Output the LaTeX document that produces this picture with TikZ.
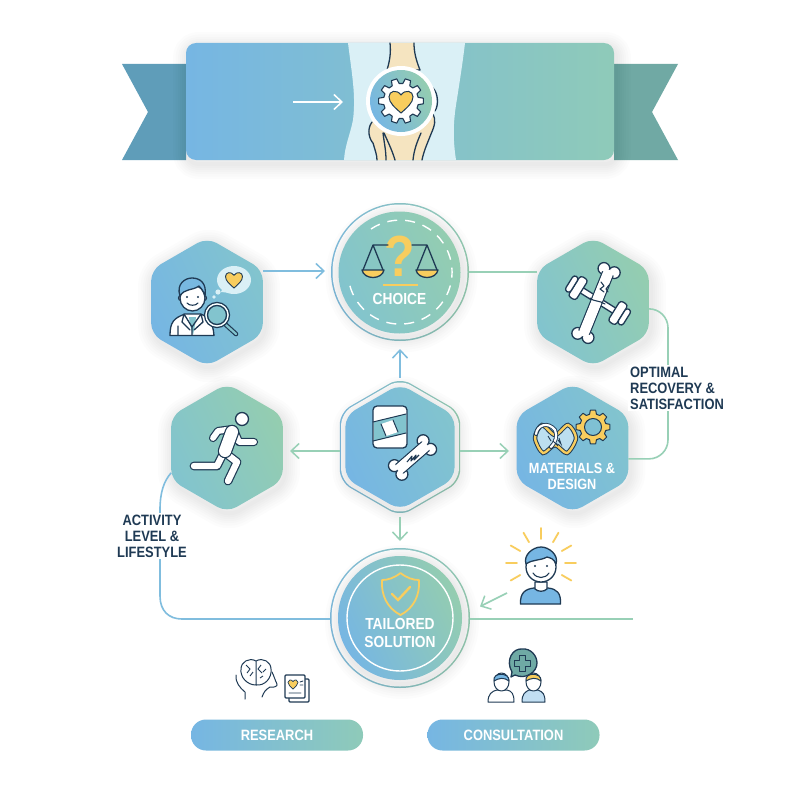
\documentclass[tikz,border=0pt]{standalone}
\usepackage{fontspec}
\setmainfont[FakeStretch=.86]{Liberation Sans}
\usetikzlibrary{shapes.geometric,arrows.meta}
\definecolor{flowblue}{HTML}{76B6E3}
\definecolor{flowteal}{HTML}{82C4CE}
\definecolor{flowgreen}{HTML}{94CDB0}
\definecolor{lineblue}{HTML}{80BDDE}
\definecolor{linegreen}{HTML}{98D0B6}
\definecolor{inkline}{HTML}{1F3A54}
\definecolor{heartyellow}{HTML}{F8CD5E}
\definecolor{bonecream}{HTML}{F5E4C0}
\definecolor{paleband}{HTML}{DAF0F6}
\definecolor{tailblue}{HTML}{5F9DB9}
\definecolor{tailgreen}{HTML}{70A9A4}
\definecolor{bubbleteal}{HTML}{6FAAA5}
\tikzset{
  shadelayer/.style = {preaction={draw=black,draw opacity=.012,line width=#1,line join=round,
                       transform canvas={xshift=2pt,yshift=-4pt}}},
  softshade/.style = {shadelayer=4pt,shadelayer=8pt,shadelayer=12pt,shadelayer=16pt,
                      shadelayer=20pt,shadelayer=25pt,shadelayer=30pt},
  bluefill/.style  = {left color=flowblue, right color=flowteal, shading angle=115},
  greenfill/.style = {left color=flowteal, right color=flowgreen, shading angle=115},
  widefill/.style  = {left color=flowblue, middle color=flowteal, right color=flowgreen, shading angle=115},
  flatfill/.style  = {left color=flowblue, middle color=flowteal, right color=flowgreen!70!flowteal},
  hexbox/.style    = {shape=regular polygon, regular polygon sides=6, shape border rotate=30,
                      minimum size=129pt, inner sep=0pt, outer sep=0pt, rounded corners=11pt},
  roundbox/.style  = {shape=circle, inner sep=0pt, outer sep=0pt},
  pillbox/.style   = {shape=rectangle, rounded corners=15pt, minimum width=172pt, minimum height=31pt,
                      inner sep=0pt, flatfill, text=white, font=\fontsize{15}{16}\selectfont\bfseries},
  lighttext/.style = {text=white, align=center, inner sep=0pt},
  darktext/.style  = {text=inkline, fill=white, inner sep=2pt,
                      font=\fontsize{15}{16}\selectfont\bfseries},
  blueline/.style  = {draw=lineblue, line width=1.6pt},
  greenline/.style = {draw=linegreen, line width=1.6pt},
  pointer/.style   = {-{Straight Barb[length=8pt,width=15pt,line width=1.5pt]}},
  inkstroke/.style = {draw=inkline, line width=1.3pt, line join=round, line cap=round},
  pics/heart/.style = {code={
    \path[pic actions] (0,1) .. controls (-.5,.55) and (-1,.15) .. (-1,-.35)
      .. controls (-1,-.85) and (-.35,-1) .. (0,-.5)
      .. controls (.35,-1) and (1,-.85) .. (1,-.35)
      .. controls (1,.15) and (.5,.55) .. (0,1) -- cycle;}},
  pics/gearwheel/.style n args = {2}{code={
    \path[pic actions,even odd rule] (-#2/3:.78)
      \foreach \a in {0,#2,...,359}{ -- (\a-#2/3:.78) -- (\a-#2/5:1) -- (\a+#2/5:1) -- (\a+#2/3:.78)} -- cycle
      (0,0) circle[radius=#1];}},
  pics/bone/.style = {code={
    \pgfmathsetmacro\bonew{#1}
    \pgfmathsetmacro\boner{1.05*#1}
    \draw[inkstroke,fill=white] (-1,-\bonew) circle[radius=\boner] (-1,\bonew) circle[radius=\boner]
      (1,-\bonew) circle[radius=\boner] (1,\bonew) circle[radius=\boner];
    \draw[inkstroke,fill=white] (-.9,-\bonew) rectangle (.9,\bonew);
    \pgfmathsetmacro\bonei{.9*#1}
    \fill[white] (-1.02,-\bonei) rectangle (1.02,\bonei);}},
}
\newcommand{\runlimb}[2]{%
  \draw[inkline,line width=#1+2.4pt,line cap=round,line join=round] #2;
  \draw[white,line width=#1,line cap=round,line join=round] #2;}
\begin{document}
\begin{tikzpicture}[x=1pt,y=-1pt]
  \useasboundingbox (0,0) rectangle (800,800);
  \fill[white] (0,0) rectangle (800,800);

  % ribbon
  \fill[tailblue] (186,64) -- (122,64) -- (148,112) -- (122,160) -- (186,160) -- cycle;
  \fill[tailgreen] (614,64) -- (678,64) -- (652,112) -- (678,160) -- (614,160) -- cycle;
  \node[shape=rectangle, rounded corners=10pt, minimum width=428pt, minimum height=117pt, inner sep=0pt,
        flatfill, softshade] (banner) at (400,101.5) {};

  % knee
  \fill[paleband] (348,43) .. controls (352,75) and (356,95) .. (353,120) .. controls (350,135) and (345,145) .. (344,160)
    -- (456,160) .. controls (453,140) and (453,125) .. (456,105) .. controls (460,80) and (463,60) .. (465,43) -- cycle;
  \draw[inkstroke,fill=bonecream] (390,43) .. controls (391,52) and (390,60) .. (387,70) -- (420,70)
    .. controls (416,60) and (414,52) .. (414,43);
  \fill[bonecream] (372,122) .. controls (366,130) and (370,140) .. (373,143) .. controls (375,150) and (377,155) .. (377,160)
    -- (422,160) .. controls (425,150) and (428,142) .. (431,134) .. controls (435,125) and (436,120) .. (433,113) -- (400,105) -- cycle;
  \draw[inkstroke] (372,122) .. controls (366,130) and (370,140) .. (373,143) .. controls (375,150) and (377,155) .. (377,160)
    (383,133) .. controls (384,142) and (386,150) .. (386,160)
    (384,133) .. controls (388,142) and (392,150) .. (395,160)
    (413,160) .. controls (414,150) and (417,142) .. (421,133)
    (422,160) .. controls (424,150) and (428,142) .. (431,134) .. controls (435,125) and (436,120) .. (433,114)
    (433,88) .. controls (438,93) and (439,105) .. (435,111);
  \node[roundbox, minimum size=70pt, fill=white] (kneering) at (401,101) {};
  \node[roundbox, minimum size=62pt, widefill] (kneedisc) at (kneering) {};
  \path (kneedisc) pic[scale=22.5,fill=white,draw=inkline,line width=1.1pt,line join=round]{gearwheel={.01}{36}};
  \path (kneedisc) pic[scale=12,fill=heartyellow,draw=inkline,line width=1pt]{heart};
  \coordinate (bannerstart) at (293,102);
  \coordinate (bannerend) at (343,102);
  \draw[white,line width=1.5pt,pointer] (bannerstart) -- (bannerend);

  % main nodes
  \node[hexbox, bluefill, softshade] (doctor) at (207,302) {};
  \node[hexbox, greenfill, softshade] (recovery) at (593,302) {};
  \node[hexbox, greenfill, softshade] (runner) at (227,448) {};
  \node[hexbox, bluefill, softshade] (materials) at (572.5,448) {};

  \node[hexbox, minimum size=139pt, rounded corners=12pt, left color=lineblue, right color=linegreen] (centerring) at (400,447) {};
  \node[hexbox, minimum size=136pt, rounded corners=12pt, fill=white] (centerwhite) at (400,447) {};
  \node[hexbox, minimum size=126pt, bluefill, softshade] (centerhex) at (400,447) {};

  \node[roundbox, minimum size=138pt, left color=lineblue, right color=linegreen] (choicering) at (400,272) {};
  \node[roundbox, minimum size=135pt, fill=white] (choicewhite) at (400,272) {};
  \node[roundbox, minimum size=122pt, greenfill, softshade] (choicedisc) at (399.5,272.5) {};

  \node[roundbox, minimum size=140pt, left color=lineblue, right color=linegreen] (solutionring) at (400,618) {};
  \node[roundbox, minimum size=137pt, fill=white] (solutionwhite) at (400,618) {};
  \node[roundbox, minimum size=124pt, widefill, softshade] (solutiondisc) at (400,618) {};
  \node[roundbox, minimum size=106pt, draw=white, line width=1.4pt] (solutionline) at (400,618) {};

  \node[pillbox] (research) at (277,735) {RESEARCH};
  \node[pillbox] (consultation) at (513.5,735) {CONSULTATION};

  % connectors
  \coordinate (recoveryturn) at (668,384);
  \coordinate (solutionend) at (633,619);
  \coordinate (persontail) at (507,593);
  \coordinate (persontip) at (480,606.5);
  \draw[blueline,pointer] (doctor.0 |- 0,271) -- (325,271);
  \draw[greenline] (choicering.east |- 0,272) -- (recovery.west |- 0,272);
  \draw[greenline,rounded corners=19pt] (recovery.-7) -| (recoveryturn) |- (materials.-11);
  \draw[blueline,pointer] (centerring.north) -- (400,349);
  \draw[greenline,pointer] (centerring.west |- 0,451) -- (290,451);
  \draw[greenline,pointer] (centerring.east |- 0,451) -- (509,451);
  \draw[greenline,pointer] (centerring.south) -- (400,541);
  \draw[blueline] (runner.204) .. controls (164,481) and (160,492) .. (160,510) -- (160,596)
    .. controls (160,611) and (169,619) .. (182,619) -- (solutionring.west |- 0,619);
  \draw[greenline] (solutionring.east |- 0,619) -- (solutionend);
  \draw[greenline,pointer] (persontail) -- (persontip);

  % texts
  \node[darktext, align=left, anchor=west] (recoverytext) at (628,388) {OPTIMAL\\RECOVERY \&\\SATISFACTION};
  \node[darktext, align=center] (activitytext) at (152,536) {ACTIVITY\\LEVEL \&\\LIFESTYLE};
  \node[lighttext, font=\fontsize{16}{18}\selectfont\bfseries] (choicetext) at (399.5,299) {CHOICE};
  \node[lighttext, font=\fontsize{14.8}{16}\selectfont\bfseries] (materialstext) at (572,476) {MATERIALS \&\\DESIGN};
  \node[lighttext, font=\fontsize{16}{18.5}\selectfont\bfseries] (solutiontext) at (400,633) {TAILORED\\SOLUTION};

  % choice icons
  \draw[white,line width=1.4pt,dash pattern=on 10pt off 8pt] (371,229) arc[start angle=-124,end angle=170,radius=52];
  \node[text=heartyellow, inner sep=0pt, font=\fontsize{58}{58}\selectfont\bfseries] (choicemark) at (400,256) {?};
  \draw[inkstroke] (373,245) -- (388,245) (412,245) -- (427,245) (363,270) -- (373,245) -- (383,270) (417,270) -- (427,245) -- (437,270);
  \draw[inkstroke,fill=heartyellow] (362,270) .. controls (364,280) and (382,280) .. (384,270) -- cycle;
  \draw[inkstroke,fill=heartyellow] (416,270) .. controls (418,280) and (436,280) .. (438,270) -- cycle;
  \draw[heartyellow,line width=1.8pt] (383,285) -- (418,285);

  % doctor
  \fill[paleband] (234,280) ellipse[x radius=17,y radius=14];
  \fill[paleband] (221,292) -- (225,283) -- (232,293) -- cycle;
  \fill[paleband] (218,292) circle[radius=2.6] (214,297) circle[radius=1.8];
  \path (234,279.5) pic[scale=8.5,fill=heartyellow,draw=inkline,line width=.9pt]{heart};
  \draw[inkstroke,fill=white] (170,335.5) .. controls (170,322) and (174,318) .. (185,314) -- (200,314)
    .. controls (208,316) and (213,322) .. (214,335.5) -- cycle;
  \fill[flowteal] (189,317) -- (196,317) -- (195,325) -- (193,335) -- (190,325) -- cycle;
  \draw[inkstroke] (184,314) -- (192,327) -- (201,314) (192,327) -- (192,335) (178,326) -- (178,335) (184,314) -- (182,322) -- (190,330) (201,314) -- (203,322) -- (194,330);
  \draw[inkstroke,fill=white] (181,298) circle[radius=2.5] (204,298) circle[radius=2.5];
  \draw[inkstroke,fill=white] (192.5,298) ellipse[x radius=12.5,y radius=13];
  \draw[inkstroke,fill=flowblue!85!flowteal] (180,296) .. controls (176,284) and (185,278) .. (192,278)
    .. controls (200,278) and (207,283) .. (205,296) .. controls (203,290) and (201,288) .. (199,286)
    .. controls (192,291) and (185,288) .. (180,296) -- cycle;
  \draw[inkstroke,line width=1.1pt] (187,303) .. controls (189,306) and (196,306) .. (198,303);
  \fill[inkline] (187,297) circle[radius=1.2] (198,297) circle[radius=1.2];
  \draw[inkline,line width=4.6pt,line cap=round] (225,324) -- (236,334);
  \draw[flowteal,line width=2.2pt,line cap=round] (226,325) -- (236,334);
  \draw[inkstroke,fill=flowteal] (217,315) circle[radius=12.5];
  \draw[white,line width=1.4pt] (217,315) circle[radius=11];
  \draw[inkstroke] (217,315) circle[radius=9.5];

  % recovery: dumbbell and bone
  \begin{scope}[shift={(598,300.5)},rotate=-32]
    \draw[inkstroke,fill=white] (-28,-3) rectangle (28,3);
    \draw[inkstroke,fill=white,rounded corners=3pt] (-28,-12) rectangle (-19,12);
    \draw[inkstroke,fill=white,rounded corners=3pt] (-34,-9) rectangle (-28,9);
    \draw[inkstroke,fill=white,rounded corners=3pt] (19,-12) rectangle (28,12);
    \draw[inkstroke,fill=white,rounded corners=3pt] (28,-9) rectangle (34,9);
  \end{scope}
  \path (596,303) pic[rotate=68,scale=35]{bone=.16};
  \draw[inkstroke,line width=1.1pt] (590,298) .. controls (594,302) and (599,300) .. (605,304)
    (601,282) -- (604,286) -- (600,289) -- (604,292) (609,285) -- (606,289) -- (608,292);

  % centre: bandage and bone
  \draw[inkstroke,fill=white,rounded corners=4pt] (373,406) rectangle (407,448);
  \fill[flowteal] (374,422) -- (406,414) -- (406,433) -- (374,441) -- cycle;
  \fill[white] (381,424) -- (393,420) -- (398,432) -- (386,436) -- cycle;
  \draw[inkstroke,line width=1pt] (373,422) -- (406,414) (373,441) -- (406,433) (381,424) -- (386,436) (393,420) -- (398,432);
  \path (412.5,457.5) pic[rotate=41,scale=19]{bone=.3};
  \draw[inkline,line width=1.1pt,line join=round] (407,462) -- (412,456) -- (411,461) -- (416,455) -- (414,460) -- (419,455);

  % runner
  \draw[inkstroke,fill=white] (242,419) circle[radius=6.5];
  \runlimb{5.8pt}{(233,429) -- (218,431) -- (213,438)}
  \runlimb{5.8pt}{(234,430) -- (239,442) -- (254,442)}
  \runlimb{6.4pt}{(224,452) -- (217,466) -- (194,466)}
  \runlimb{6.4pt}{(224,452) -- (237,462) -- (228,481)}
  \runlimb{12pt}{(232,432) -- (225,451)}

  % materials icons
  \path (593,427) pic[scale=17,fill=heartyellow,draw=inkline,line width=1pt,line join=round]{gearwheel={.5}{45}};
  \fill[paleband!70!flowblue] plot[smooth cycle] coordinates {(555,435) (568,425) (576,438) (567,453) (555,445) (543,453) (535,438) (542,425)};
  \draw[inkline,line width=4.4pt] plot[smooth cycle] coordinates {(555,435) (568,425) (576,438) (567,453) (555,445) (543,453) (535,438) (542,425)};
  \draw[heartyellow,line width=2.4pt] plot[smooth cycle] coordinates {(555,435) (568,425) (576,438) (567,453) (555,445) (543,453) (535,438) (542,425)};
  \draw[inkline,line width=4pt,line cap=round] (536,434) .. controls (537,425) and (548,421) .. (555,430) .. controls (558,436) and (555,443) .. (551,447);
  \draw[white,line width=2.2pt,line cap=round] (536,434) .. controls (537,425) and (548,421) .. (555,430) .. controls (558,436) and (555,443) .. (551,447);
  \draw[inkline,line width=.9pt] (548,436) -- (551,441) (558,440) -- (561,444) -- (559,438) (553,441) -- (558,446);

  % solution shield
  \draw[heartyellow,line width=1.8pt,line join=round] (400.5,573) .. controls (407,578) and (413,580) .. (419,580)
    .. controls (420,595) and (414,608) .. (400.5,615) .. controls (387,608) and (381,595) .. (382,580)
    .. controls (388,580) and (394,578) .. (400.5,573) -- cycle;
  \draw[heartyellow,line width=2.4pt,line cap=round] (392,594) -- (398,600) -- (410,587);

  % happy person
  \foreach \a in {-90,-60,-120,-30,-150,0,180,30,150}
    \draw[heartyellow,line width=1.8pt,line cap=round] (541,563) ++(\a:24) -- ++(\a:11);
  \draw[inkstroke,fill=flowblue] (520.5,604) .. controls (520,593) and (525,589) .. (534,588) -- (548,588)
    .. controls (557,589) and (561,593) .. (560.5,604) -- cycle;
  \draw[inkstroke,fill=white] (535,582) -- (535,589) .. controls (538,592) and (544,592) .. (547,589) -- (547,582) -- cycle;
  \draw[inkstroke,fill=white] (541,567) circle[radius=15];
  \draw[inkstroke,fill=flowblue] (526,564) .. controls (523,555) and (533,547) .. (541,547)
    .. controls (549,547) and (559,555) .. (556,564) .. controls (554,559) and (551,558) .. (547,557)
    .. controls (540,561) and (533,559) .. (526,564) -- cycle;
  \fill[inkline] (535,566) circle[radius=1.2] (547,566) circle[radius=1.2];
  \draw[inkstroke,line width=1.1pt] (533,573) .. controls (537,579) and (545,579) .. (549,573);

  % research icons
  \draw[inkstroke,line width=1pt] (236,675) .. controls (235,682) and (240,688) .. (245,692) -- (245,699)
    (262,697) .. controls (264,692) and (265,690) .. (270,687) .. controls (274,688) and (278,686) .. (277,684)
    .. controls (275,680) and (274,676) .. (272,672);
  \draw[inkstroke,line width=1pt,fill=white] (256,661) .. controls (249,657) and (241,662) .. (241,669)
    .. controls (240,677) and (247,685) .. (256,685) .. controls (265,686) and (272,678) .. (271,669)
    .. controls (271,662) and (263,657) .. (256,661) -- (256,685);
  \draw[inkline,line width=.9pt] (246,665) -- (250,669) -- (247,673) (250,676) -- (253,672) (261,665) -- (258,669) -- (262,673) (266,669) -- (263,672) (260,678) -- (263,676);
  \draw[inkstroke,fill=white,rounded corners=1pt] (289,679) rectangle (309,702);
  \draw[inkstroke,fill=white,rounded corners=1pt] (285,675) rectangle (305,698);
  \path (293,684) pic[scale=5,fill=heartyellow,draw=inkline,line width=.7pt]{heart};
  \draw[inkstroke,line width=.9pt] (289,693) -- (301,693) (300,682) -- (303,681) (300,685) -- (303,685);

  % consultation icons
  \draw[inkstroke,fill=bubbleteal] (512,672) .. controls (505,660) and (513,648) .. (522,649) .. controls (531,648) and (537,656) .. (537,663)
    .. controls (537,672) and (526,680) .. (515,675) -- (511,677) -- cycle;
  \draw[inkstroke,line width=1pt,fill=bubbleteal] (519,655) -- (525,655) -- (525,660) -- (530,660) -- (530,666) -- (525,666) -- (525,671) -- (519,671) -- (519,666) -- (514,666) -- (514,660) -- (519,660) -- cycle;
  \draw[inkstroke,line width=1pt,fill=white] (488,702) .. controls (488,694) and (492,691) .. (497,690) -- (507,690) .. controls (512,691) and (514,694) .. (514,702) -- cycle;
  \draw[inkstroke,line width=1pt,fill=white] (501.5,682) ellipse[x radius=7.5,y radius=9];
  \draw[inkstroke,line width=1pt,fill=flowblue] (494,681) .. controls (492,672) and (510,672) .. (509,681) .. controls (504,677) and (499,678) .. (494,681) -- cycle;
  \draw[inkstroke,line width=1pt,fill=flowblue!45!white] (522,702) .. controls (522,694) and (525,692) .. (529,690) -- (538,690) .. controls (543,692) and (545,694) .. (545,702) -- cycle;
  \draw[inkstroke,line width=1pt,fill=white] (533.5,682) ellipse[x radius=7.5,y radius=9];
  \draw[inkstroke,line width=1pt,fill=heartyellow] (526,681) .. controls (524,672) and (542,672) .. (541,681) .. controls (536,677) and (531,678) .. (526,681) -- cycle;
\end{tikzpicture}
\end{document}
